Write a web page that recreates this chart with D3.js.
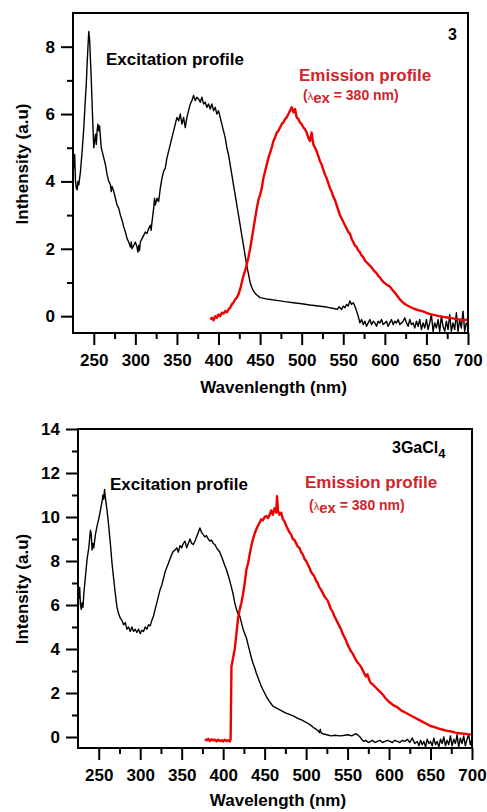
<!DOCTYPE html>
<html>
<head>
<meta charset="utf-8">
<script src="https://cdnjs.cloudflare.com/ajax/libs/d3/7.8.5/d3.min.js"></script>
<style>
  html, body { margin: 0; padding: 0; background: #fff; }
  svg { display: block; }
  text { font-family: "Liberation Sans", Arial, sans-serif; font-weight: bold; }
</style>
</head>
<body>
<svg id="chart" width="487" height="812"></svg>
<script>
// ---------- DATA ----------
const xTicks = [250, 300, 350, 400, 450, 500, 550, 600, 650, 700];
const xMinorTicks = [275, 325, 375, 425, 475, 525, 575, 625, 675];
const topYTicks = [0, 2, 4, 6, 8];
const topYMinorTicks = [1, 3, 5, 7];
const bottomYTicks = [0, 2, 4, 6, 8, 10, 12, 14];
const bottomYMinorTicks = [1, 3, 5, 7, 9, 11, 13];

// Top panel (compound 3): excitation profile [wavelength nm, intensity]
const topExcitation = [
[225,4.9],[226,4.4],[227,4.8],[228,4.0],[229,3.8],[230,3.75],[231,4.0],[232,3.9],[234,4.3],[236,4.9],
[238,5.6],[240,6.5],[241,6.9],[242,7.5],[243,8.0],[244,8.45],[245,8.2],[246,7.6],[247,7.0],[248,6.3],
[249,5.6],[250,5.0],[251,5.2],[252,5.4],[253,5.1],[254,5.5],[255,5.7],[256,5.5],[257,5.65],[258,5.3],
[259,5.0],[260,4.9],[262,4.7],[264,4.5],[266,4.2],[268,4.0],[270,3.9],[271,3.7],[272,3.85],[274,3.7],
[276,3.5],[278,3.3],[280,3.2],[282,3.0],[284,2.85],[286,2.65],[288,2.5],[290,2.3],[292,2.2],[294,2.05],
[295,2.2],[296,2.0],[298,2.1],[300,2.2],[302,2.05],[303,1.9],[304,2.1],[305,1.95],[306,2.2],[308,2.3],
[310,2.4],[312,2.5],[314,2.45],[316,2.6],[318,2.7],[319,2.55],[320,2.8],[322,3.2],[323,3.5],[324,3.3],
[326,3.5],[328,3.4],[330,3.8],[332,4.1],[334,4.3],[336,4.4],[338,4.7],[340,4.9],[342,5.1],[344,5.3],
[346,5.5],[348,5.7],[350,5.9],[352,5.8],[354,6.0],[356,5.7],[358,5.9],[360,5.6],[362,5.9],[364,6.1],
[366,6.3],[368,6.4],[370,6.55],[372,6.4],[374,6.5],[376,6.45],[378,6.35],[380,6.5],[382,6.3],[384,6.35],
[386,6.2],[388,6.3],[390,6.15],[392,6.3],[394,6.1],[396,6.2],[398,6.0],[400,6.1],[402,5.9],[404,5.7],
[406,5.5],[408,5.3],[410,5.0],[412,4.8],[414,4.5],[416,4.2],[418,3.9],[420,3.6],[422,3.3],[424,3.0],
[426,2.7],[428,2.4],[430,2.1],[432,1.8],[434,1.5],[436,1.25],[438,1.0],[440,0.85],[442,0.75],[445,0.65],
[450,0.55],[460,0.5],[470,0.47],[480,0.43],[490,0.4],[500,0.37],[510,0.33],[520,0.3],[530,0.27],[540,0.22],
[543,0.2],[545,0.28],[548,0.2],[550,0.3],[552,0.25],[554,0.35],[556,0.3],[558,0.45],[560,0.35],[562,0.4],
[564,0.3],[566,0.15],[568,0.0],[570,-0.2],[572,-0.1],[574,-0.25],[576,-0.15],[578,-0.3],[580,-0.2],[582,-0.1],
[584,-0.25],[586,-0.15],[588,-0.2],[590,-0.3],[592,-0.15],[594,-0.2],[596,-0.1],[598,-0.25],[600,-0.2],[602,-0.15],
[604,-0.3],[606,-0.2],[608,-0.1],[610,-0.25],[612,-0.15],[614,-0.2],[616,-0.1],[618,-0.25],[620,-0.2],[622,-0.15],
[624,-0.05],[626,-0.2],[628,-0.3],[630,-0.1],[632,-0.25],[634,-0.2],[636,-0.35],[638,-0.15],[640,-0.3],[642,-0.1],
[644,-0.4],[646,-0.2],[648,-0.35],[650,-0.1],[652,-0.4],[654,-0.2],[656,0.05],[658,-0.45],[660,-0.2],[662,-0.35],
[664,-0.1],[666,-0.45],[668,0.0],[670,-0.3],[672,-0.45],[674,-0.15],[676,-0.4],[678,0.05],[680,-0.45],[682,-0.2],
[684,-0.4],[686,0.1],[688,-0.45],[690,-0.1],[692,-0.35],[694,0.15],[696,-0.45],[698,-0.2],[700,-0.3]
];

// Top panel: emission profile
const topEmission = [
[390,-0.1],[392,-0.05],[394,-0.12],[396,0.0],[398,-0.05],[400,0.05],[402,0.0],[404,0.1],[406,0.08],[408,0.15],
[410,0.12],[412,0.2],[414,0.25],[416,0.35],[418,0.4],[420,0.5],[422,0.55],[424,0.65],[426,0.8],[428,1.0],
[430,1.2],[432,1.35],[434,1.55],[436,1.75],[438,2.0],[440,2.3],[442,2.6],[444,2.9],[446,3.2],[448,3.45],
[450,3.6],[452,3.8],[454,4.1],[456,4.3],[458,4.5],[460,4.7],[462,4.85],[464,5.0],[466,5.2],[468,5.3],
[470,5.45],[472,5.5],[474,5.6],[476,5.7],[478,5.75],[480,5.85],[482,5.9],[484,6.0],[486,6.1],[488,6.2],
[490,6.05],[492,6.15],[494,5.9],[496,5.85],[498,5.75],[500,5.7],[502,5.6],[504,5.55],[506,5.45],[508,5.3],
[510,5.2],[512,5.45],[514,5.1],[516,5.0],[518,4.9],[520,4.75],[522,4.6],[524,4.5],[526,4.35],[528,4.2],
[530,4.1],[532,3.95],[534,3.8],[536,3.7],[538,3.55],[540,3.45],[542,3.3],[544,3.15],[546,3.0],[548,2.9],
[550,2.8],[552,2.7],[554,2.6],[556,2.5],[558,2.45],[560,2.3],[562,2.2],[564,2.1],[566,2.05],[568,1.95],
[570,1.9],[572,1.8],[574,1.75],[576,1.65],[578,1.6],[580,1.55],[582,1.5],[584,1.45],[586,1.38],[588,1.32],
[590,1.28],[592,1.2],[594,1.15],[596,1.08],[598,1.02],[600,0.98],[603,0.92],[606,0.88],[609,0.78],[612,0.7],
[615,0.6],[618,0.5],[622,0.4],[626,0.33],[630,0.28],[635,0.22],[640,0.18],[646,0.14],[650,0.1],[655,0.06],
[660,0.03],[665,0.0],[670,-0.02],[675,-0.04],[680,-0.06],[685,-0.08],[690,-0.1],[695,-0.12],[700,-0.1]
];

// Bottom panel (3GaCl4): excitation profile
const bottomExcitation = [
[225,7.1],[226,6.3],[227,6.8],[228,6.0],[229,5.8],[230,6.1],[231,5.9],[232,6.5],[234,7.3],[236,8.1],
[238,8.6],[239,9.0],[240,9.4],[241,9.2],[242,8.5],[243,8.8],[244,8.6],[246,9.2],[248,9.6],[250,9.9],
[252,10.3],[254,10.7],[255,11.0],[256,10.8],[257,11.25],[258,10.9],[259,10.6],[260,10.3],[262,9.6],[264,8.8],
[266,7.9],[268,7.2],[270,6.5],[272,5.9],[274,5.6],[276,5.4],[278,5.3],[280,5.1],[282,5.2],[284,4.9],
[286,5.0],[288,4.8],[290,5.0],[292,4.8],[294,4.9],[296,4.75],[298,4.9],[300,4.7],[302,4.85],[304,4.8],
[306,5.0],[308,4.9],[310,5.1],[312,5.05],[314,5.3],[316,5.5],[318,5.8],[320,6.1],[322,6.4],[324,6.7],
[326,6.9],[328,7.2],[330,7.5],[332,7.7],[334,7.9],[336,8.1],[338,8.3],[340,8.45],[342,8.5],[344,8.6],
[346,8.4],[348,8.7],[350,8.6],[352,8.8],[354,8.9],[356,8.6],[358,8.8],[360,9.0],[362,8.8],[364,8.75],
[366,8.9],[368,9.1],[370,9.3],[372,9.5],[374,9.3],[376,9.2],[378,9.1],[380,9.15],[382,9.0],[384,8.9],
[386,8.95],[388,8.8],[390,8.75],[392,8.6],[394,8.5],[396,8.4],[398,8.2],[400,8.0],[402,7.8],[404,7.6],
[406,7.35],[408,7.1],[410,6.8],[412,6.5],[414,6.1],[416,5.8],[418,5.6],[420,5.5],[422,5.2],[424,4.9],
[426,4.7],[428,4.5],[430,4.2],[432,3.9],[434,3.6],[436,3.35],[438,3.15],[440,2.9],[442,2.7],[444,2.5],
[446,2.3],[448,2.15],[450,2.0],[452,1.85],[455,1.65],[458,1.5],[460,1.4],[465,1.3],[470,1.2],[475,1.1],
[480,1.03],[485,0.95],[490,0.85],[495,0.77],[500,0.67],[505,0.55],[510,0.4],[514,0.3],[516,0.2],[517,0.35],
[518,0.2],[520,0.15],[525,0.1],[530,0.05],[535,0.08],[540,0.05],[545,0.07],[550,0.1],[555,0.05],[560,0.15],
[562,0.1],[565,0.0],[568,-0.15],[570,-0.2],[572,-0.15],[575,-0.25],[578,-0.2],[580,-0.15],[583,-0.25],[586,-0.2],
[589,-0.15],[592,-0.25],[595,-0.2],[598,-0.15],[601,-0.2],[604,-0.25],[607,-0.15],[610,-0.2],[613,-0.25],[616,-0.15],
[619,-0.2],[622,-0.1],[625,-0.25],[628,-0.05],[631,-0.3],[634,-0.2],[636,-0.4],[638,-0.15],[640,-0.35],[642,-0.2],
[644,-0.45],[646,-0.1],[648,-0.3],[650,-0.2],[652,-0.4],[654,-0.05],[656,-0.35],[658,-0.2],[660,-0.45],[662,-0.1],
[664,-0.3],[666,0.0],[668,-0.4],[670,-0.15],[672,-0.35],[674,0.05],[676,-0.4],[678,-0.1],[680,-0.3],[682,0.1],
[684,-0.45],[686,-0.05],[688,-0.3],[690,0.05],[692,-0.4],[694,-0.1],[696,0.1],[698,-0.35],[700,-0.1]
];

// Bottom panel: emission profile
const bottomEmission = [
[378,-0.1],[380,-0.15],[382,-0.08],[384,-0.18],[386,-0.1],[388,-0.15],[390,-0.12],[392,-0.2],[394,-0.12],[396,-0.18],
[398,-0.15],[400,-0.2],[402,-0.12],[404,-0.18],[406,-0.15],[408,-0.2],[409,-0.1],[410,3.2],[412,3.6],[414,4.0],
[416,4.7],[418,5.4],[420,5.8],[422,6.1],[424,6.5],[426,7.0],[428,7.6],[430,7.9],[432,8.3],[434,8.7],
[436,9.0],[438,9.25],[440,9.45],[442,9.6],[444,9.75],[446,9.9],[448,9.85],[450,10.0],[452,10.05],[454,9.95],
[456,10.1],[458,10.3],[460,10.1],[462,10.4],[464,10.2],[465,10.95],[466,10.3],[468,10.1],[470,10.2],[472,9.9],
[474,9.8],[476,9.6],[478,9.45],[480,9.3],[482,9.2],[484,9.0],[486,8.95],[488,8.8],[490,8.65],[492,8.6],
[494,8.4],[496,8.3],[498,8.1],[500,8.0],[502,7.85],[504,7.7],[506,7.5],[508,7.4],[510,7.3],[512,7.1],
[514,7.0],[516,6.8],[518,6.7],[520,6.55],[522,6.4],[524,6.3],[526,6.2],[528,6.0],[530,5.8],[532,5.7],
[534,5.5],[536,5.35],[538,5.2],[540,5.05],[542,4.9],[544,4.7],[546,4.55],[548,4.4],[550,4.2],[552,4.05],
[554,3.9],[556,3.8],[558,3.65],[560,3.5],[562,3.4],[564,3.3],[566,3.2],[568,3.05],[570,2.9],[572,2.75],
[574,2.85],[576,2.6],[578,2.45],[580,2.4],[584,2.25],[588,2.1],[592,1.95],[596,1.75],[600,1.6],[605,1.45],
[610,1.35],[615,1.2],[620,1.1],[625,1.0],[630,0.9],[635,0.8],[640,0.7],[645,0.6],[650,0.5],[655,0.45],
[660,0.38],[665,0.33],[670,0.28],[675,0.25],[680,0.2],[685,0.17],[690,0.15],[695,0.13],[700,0.12]
];

// ---------- DRAWING ----------
const svg = d3.select("#chart");
const RED_LINE = "#ee0000";
const RED_TEXT = "#d2232a";

function panel(cfg) {
  const x = d3.scaleLinear().domain([225, 700]).range([cfg.left, cfg.right]);
  const y = d3.scaleLinear().domain(cfg.yDomain).range([cfg.bottom, cfg.top]);
  const g = svg.append("g");

  const clipId = "clip" + cfg.id;
  svg.append("defs").append("clipPath").attr("id", clipId)
    .append("rect").attr("x", cfg.left).attr("y", cfg.top)
    .attr("width", cfg.right - cfg.left).attr("height", cfg.bottom - cfg.top);

  const line = d3.line().x(d => x(d[0])).y(d => y(d[1]));
  const lines = g.append("g").attr("clip-path", `url(#${clipId})`);
  lines.append("path").datum(cfg.excitation)
    .attr("fill", "none").attr("stroke", "#000").attr("stroke-width", 1.4)
    .attr("stroke-linejoin", "round").attr("d", line);
  lines.append("path").datum(cfg.emission)
    .attr("fill", "none").attr("stroke", RED_LINE).attr("stroke-width", 2.4)
    .attr("stroke-linejoin", "round").attr("d", line);

  // frame
  g.append("rect").attr("x", cfg.left).attr("y", cfg.top)
    .attr("width", cfg.right - cfg.left).attr("height", cfg.bottom - cfg.top)
    .attr("fill", "none").attr("stroke", "#000").attr("stroke-width", 2);

  const styleAxis = sel => {
    sel.select(".domain").remove();
    sel.selectAll(".tick line").attr("stroke", "#000").attr("stroke-width", 2);
    sel.selectAll(".tick text").attr("fill", "#000").style("font-size", "17px")
      .style("font-family", "'Liberation Sans', Arial, sans-serif").style("font-weight", "bold");
  };

  g.append("g").attr("transform", `translate(0,${cfg.bottom})`)
    .call(d3.axisBottom(x).tickValues(xTicks).tickSize(12).tickPadding(9).tickFormat(d3.format("d")))
    .call(styleAxis);
  g.append("g").attr("transform", `translate(0,${cfg.bottom})`)
    .call(d3.axisBottom(x).tickValues(xMinorTicks).tickSize(6).tickFormat(""))
    .call(styleAxis);
  g.append("g").attr("transform", `translate(${cfg.left},0)`)
    .call(d3.axisLeft(y).tickValues(cfg.yTicks).tickSize(12).tickPadding(6).tickFormat(d3.format("d")))
    .call(styleAxis);
  g.append("g").attr("transform", `translate(${cfg.left},0)`)
    .call(d3.axisLeft(y).tickValues(cfg.yMinor).tickSize(6).tickFormat(""))
    .call(styleAxis);

  // axis titles
  g.append("text").attr("x", (cfg.left + cfg.right) / 2 + 3).attr("y", cfg.xTitleY)
    .attr("text-anchor", "middle").style("font-size", "17px").text(cfg.xTitle);
  g.append("text").attr("transform", `translate(${cfg.yTitleX},${cfg.yTitleCY}) rotate(-90)`)
    .attr("text-anchor", "middle").style("font-size", "17px").text(cfg.yTitle);

  // annotations
  g.append("text").attr("x", cfg.exLabel[0]).attr("y", cfg.exLabel[1])
    .style("font-size", "17px").attr("fill", "#000").text("Excitation profile");
  g.append("text").attr("x", cfg.emLabel[0]).attr("y", cfg.emLabel[1])
    .style("font-size", "17px").attr("fill", RED_TEXT).text("Emission profile");
  const t = g.append("text").attr("x", cfg.emLabel[0] + 4).attr("y", cfg.emLabel[1] + cfg.subGap)
    .style("font-size", "14px").attr("fill", RED_TEXT);
  t.append("tspan").text("(");
  t.append("tspan").style("font-size", "11px").style("font-weight", "normal").text("λ");
  t.append("tspan").attr("dy", 3).style("font-size", "15px").text("ex");
  t.append("tspan").attr("dy", -3).text(" = 380 nm)");

  return g;
}

panel({
  id: "top", left: 73, right: 468, top: 13, bottom: 333,
  yDomain: [-0.5, 9], yTicks: topYTicks, yMinor: topYMinorTicks,
  excitation: topExcitation, emission: topEmission,
  xTitle: "Wavenlength (nm)", xTitleY: 393,
  yTitle: "Inthensity (a.u)", yTitleX: 28, yTitleCY: 164,
  exLabel: [106, 65], emLabel: [299, 81], subGap: 19
}).append("text").attr("x", 457).attr("y", 40).attr("text-anchor", "end")
  .style("font-size", "16px").text("3");

const bottom = panel({
  id: "bot", left: 78, right: 472, top: 429, bottom: 748,
  yDomain: [-0.5, 14], yTicks: bottomYTicks, yMinor: bottomYMinorTicks,
  excitation: bottomExcitation, emission: bottomEmission,
  xTitle: "Wavelength (nm)", xTitleY: 806,
  yTitle: "Intensity (a.u)", yTitleX: 28, yTitleCY: 589,
  exLabel: [110, 490], emLabel: [305, 488], subGap: 22
});
const lbl = bottom.append("text").attr("x", 392).attr("y", 453).style("font-size", "16px");
lbl.append("tspan").text("3GaCl");
lbl.append("tspan").attr("dy", 5).style("font-size", "13px").text("4");
</script>
</body>
</html>
